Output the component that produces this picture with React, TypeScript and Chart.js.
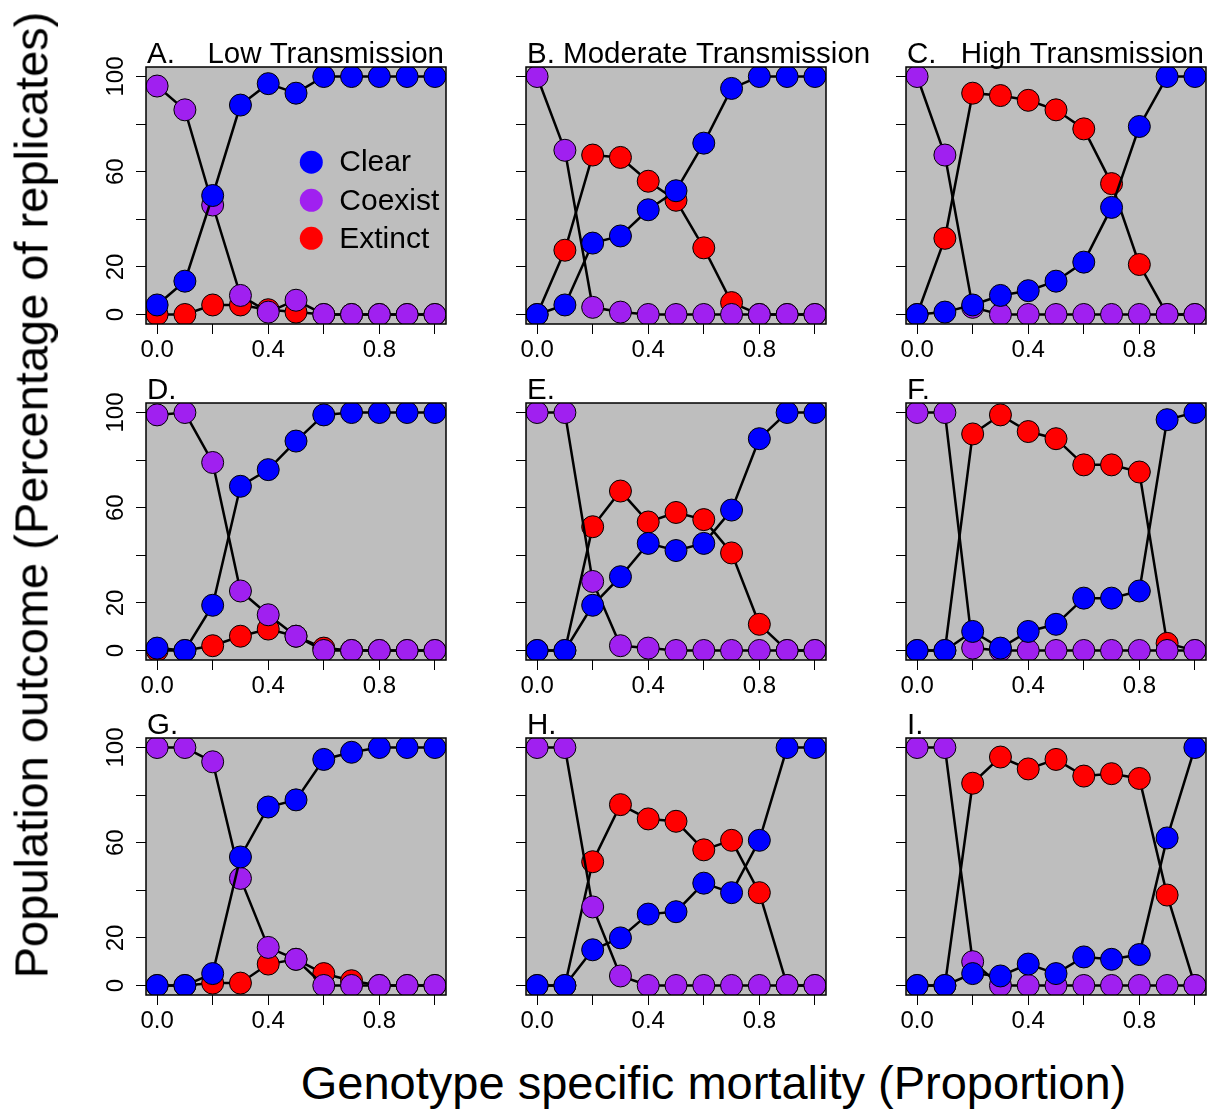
import React, { useEffect, useRef } from 'react';
import { Chart, registerables } from 'chart.js';

Chart.register(...registerables);

// ---------- data ----------
const mortality = [0, 0.1, 0.2, 0.3, 0.4, 0.5, 0.6, 0.7, 0.8, 0.9, 1.0];

const seriesNames = ['Clear', 'Coexist', 'Extinct'];
const seriesColors = ['#0000FF', '#A020F0', '#FF0000'];

const yTickValues = [0, 20, 40, 60, 80, 100];
const yTickLabels = ['0', '20', '', '60', '', '100'];
const xTickValues = [0, 0.2, 0.4, 0.6, 0.8, 1.0];
const xTickLabels = ['0.0', '', '0.4', '', '0.8', ''];

// Panel A - Low transmission
const clearA = [4, 14, 50, 88, 97, 93, 100, 100, 100, 100, 100];
const coexistA = [96, 86, 46, 8, 1, 6, 0, 0, 0, 0, 0];
const extinctA = [0, 0, 4, 4, 2, 1, 0, 0, 0, 0, 0];
// Panel B - Moderate transmission
const clearB = [0, 4, 30, 33, 44, 52, 72, 95, 100, 100, 100];
const coexistB = [100, 69, 3, 1, 0, 0, 0, 0, 0, 0, 0];
const extinctB = [0, 27, 67, 66, 56, 48, 28, 5, 0, 0, 0];
// Panel C - High transmission
const clearC = [0, 1, 4, 8, 10, 14, 22, 45, 79, 100, 100];
const coexistC = [100, 67, 3, 0, 0, 0, 0, 0, 0, 0, 0];
const extinctC = [0, 32, 93, 92, 90, 86, 78, 55, 21, 0, 0];
// Panel D
const clearD = [1, 0, 19, 69, 76, 88, 99, 100, 100, 100, 100];
const coexistD = [99, 100, 79, 25, 15, 6, 0, 0, 0, 0, 0];
const extinctD = [0, 0, 2, 6, 9, 6, 1, 0, 0, 0, 0];
// Panel E
const clearE = [0, 0, 19, 31, 45, 42, 45, 59, 89, 100, 100];
const coexistE = [100, 100, 29, 2, 1, 0, 0, 0, 0, 0, 0];
const extinctE = [0, 0, 52, 67, 54, 58, 55, 41, 11, 0, 0];
// Panel F
const clearF = [0, 0, 8, 1, 8, 11, 22, 22, 25, 97, 100];
const coexistF = [100, 100, 1, 0, 0, 0, 0, 0, 0, 0, 0];
const extinctF = [0, 0, 91, 99, 92, 89, 78, 78, 75, 3, 0];
// Panel G
const clearG = [0, 0, 5, 54, 75, 78, 95, 98, 100, 100, 100];
const coexistG = [100, 100, 94, 45, 16, 11, 0, 0, 0, 0, 0];
const extinctG = [0, 0, 1, 1, 9, 11, 5, 2, 0, 0, 0];
// Panel H
const clearH = [0, 0, 15, 20, 30, 31, 43, 39, 61, 100, 100];
const coexistH = [100, 100, 33, 4, 0, 0, 0, 0, 0, 0, 0];
const extinctH = [0, 0, 52, 76, 70, 69, 57, 61, 39, 0, 0];
// Panel I
const clearI = [0, 0, 5, 4, 9, 5, 12, 11, 13, 62, 100];
const coexistI = [100, 100, 10, 0, 0, 0, 0, 0, 0, 0, 0];
const extinctI = [0, 0, 85, 96, 91, 95, 88, 89, 87, 38, 0];

const panelTitlesLeft = ['A.', 'B. Moderate Transmission', 'C.', 'D.', 'E.', 'F.', 'G.', 'H.', 'I.'];
const panelTitlesRight = ['Low Transmission', '', 'High Transmission', '', '', '', '', '', ''];

const panelClear = [clearA, clearB, clearC, clearD, clearE, clearF, clearG, clearH, clearI];
const panelCoexist = [coexistA, coexistB, coexistC, coexistD, coexistE, coexistF, coexistG, coexistH, coexistI];
const panelExtinct = [extinctA, extinctB, extinctC, extinctD, extinctE, extinctF, extinctG, extinctH, extinctI];

const xAxisTitle = 'Genotype specific mortality (Proportion)';
const yAxisTitle = 'Population outcome (Percentage of replicates)';

// ---------- layout ----------
const FONT = '"Liberation Sans", Arial, Helvetica, sans-serif';
const PLOT_W = 300;
const PLOT_H = 257;
const PAD_L = 100;
const PAD_T = 40;
const PAD_R = 60;
const PAD_B = 50;
const CANVAS_W = PAD_L + PLOT_W + PAD_R;
const CANVAS_H = PAD_T + PLOT_H + PAD_B;
const colLefts = [146, 526, 906];
const rowTops = [67, 403, 738];

const legendX = 0.555;
const legendY = [64, 48, 32];

const decorPlugin = {
  id: 'panelDecor',
  beforeDraw(chart: any) {
    const { ctx, chartArea: a } = chart;
    ctx.save();
    ctx.fillStyle = '#BEBEBE';
    ctx.fillRect(a.left, a.top, a.right - a.left, a.bottom - a.top);
    ctx.restore();
  },
  afterDraw(chart: any) {
    const { ctx, chartArea: a } = chart;
    const o = chart.options.plugins.panelDecor || {};
    ctx.save();
    ctx.strokeStyle = '#000';
    ctx.lineWidth = 1.5;
    ctx.strokeRect(a.left, a.top, a.right - a.left, a.bottom - a.top);
    ctx.fillStyle = '#000';
    ctx.font = `29.5px ${FONT}`;
    ctx.textBaseline = 'alphabetic';
    ctx.textAlign = 'left';
    ctx.fillText(o.titleLeft || '', a.left + 1, a.top - 4);
    if (o.titleRight) {
      ctx.textAlign = 'right';
      ctx.fillText(o.titleRight, a.right - 2, a.top - 4);
    }
    if (o.legend) {
      const xs = chart.scales.x;
      const ys = chart.scales.y;
      const px = xs.getPixelForValue(legendX);
      ctx.font = `30px ${FONT}`;
      ctx.textAlign = 'left';
      ctx.textBaseline = 'middle';
      seriesNames.forEach((name, i) => {
        const py = ys.getPixelForValue(legendY[i]);
        ctx.beginPath();
        ctx.arc(px, py, 11.5, 0, Math.PI * 2);
        ctx.fillStyle = seriesColors[i];
        ctx.fill();
        ctx.fillStyle = '#000';
        ctx.fillText(name, px + 28, py + 1);
      });
    }
    ctx.restore();
  },
};

function Panel({ idx }: { idx: number }) {
  const ref = useRef<HTMLCanvasElement>(null);
  const col = idx % 3;
  const row = Math.floor(idx / 3);
  useEffect(() => {
    const showY = col === 0;
    const values = [panelClear[idx], panelCoexist[idx], panelExtinct[idx]];
    const chart = new Chart(ref.current as HTMLCanvasElement, {
      type: 'line',
      data: {
        datasets: values.map((v, i) => ({
          label: seriesNames[i],
          data: mortality.map((m, j) => ({ x: m, y: v[j] })),
          borderColor: '#000',
          borderWidth: 2.5,
          pointRadius: 11,
          pointHoverRadius: 11,
          pointBackgroundColor: seriesColors[i],
          pointBorderColor: '#000',
          pointBorderWidth: 1,
          tension: 0,
        })),
      },
      options: {
        responsive: false,
        maintainAspectRatio: false,
        animation: false,
        events: [],
        layout: { padding: { left: 0, top: PAD_T, right: PAD_R, bottom: 0 } },
        plugins: {
          legend: { display: false },
          tooltip: { enabled: false },
          title: { display: false },
          panelDecor: {
            titleLeft: panelTitlesLeft[idx],
            titleRight: panelTitlesRight[idx],
            legend: idx === 0,
          },
        } as any,
        scales: {
          x: {
            type: 'linear',
            min: -0.04,
            max: 1.04,
            afterBuildTicks: (s: any) => {
              s.ticks = xTickValues.map((v) => ({ value: v }));
            },
            afterFit: (s: any) => {
              s.height = PAD_B;
            },
            ticks: {
              autoSkip: false,
              maxRotation: 0,
              minRotation: 0,
              padding: 2,
              color: '#000',
              font: { family: FONT, size: 24 },
              callback: (v: any) => {
                const k = xTickValues.findIndex((t) => Math.abs(t - Number(v)) < 1e-9);
                return k >= 0 ? xTickLabels[k] : '';
              },
            },
            grid: {
              display: true,
              drawOnChartArea: false,
              drawTicks: true,
              tickLength: 10,
              color: '#000',
              lineWidth: 1,
            },
            border: { display: false },
          },
          y: {
            type: 'linear',
            min: -4,
            max: 104,
            afterBuildTicks: (s: any) => {
              s.ticks = yTickValues.map((v) => ({ value: v }));
            },
            afterFit: (s: any) => {
              s.width = PAD_L;
            },
            ticks: {
              autoSkip: false,
              minRotation: 90,
              maxRotation: 90,
              crossAlign: 'center',
              padding: 0,
              color: '#000',
              font: { family: FONT, size: 24 },
              callback: (v: any) => {
                if (!showY) return '';
                const k = yTickValues.findIndex((t) => Math.abs(t - Number(v)) < 1e-9);
                return k >= 0 ? yTickLabels[k] : '';
              },
            },
            grid: {
              display: true,
              drawOnChartArea: false,
              drawTicks: true,
              tickLength: 10,
              color: '#000',
              lineWidth: 1,
            },
            border: { display: false },
          },
        },
      } as any,
      plugins: [decorPlugin],
    });
    return () => chart.destroy();
  }, [idx]);
  return (
    <canvas
      ref={ref}
      width={CANVAS_W}
      height={CANVAS_H}
      style={{
        position: 'absolute',
        left: colLefts[col] - PAD_L,
        top: rowTops[row] - PAD_T,
        width: CANVAS_W,
        height: CANVAS_H,
      }}
    />
  );
}

export default function App() {
  return (
    <div
      style={{
        position: 'fixed',
        left: 0,
        top: 0,
        width: 1217,
        height: 1114,
        overflow: 'hidden',
        background: '#fff',
      }}
    >
      {[0, 1, 2, 3, 4, 5, 6, 7, 8].map((i) => (
        <Panel key={i} idx={i} />
      ))}
      <div
        style={{
          position: 'absolute',
          left: 30.5,
          top: 495,
          transform: 'translate(-50%, -50%) rotate(-90deg)',
          font: `47px ${FONT}`,
          lineHeight: '47px',
          whiteSpace: 'nowrap',
          color: '#000',
        }}
      >
        {yAxisTitle}
      </div>
      <div
        style={{
          position: 'absolute',
          left: 713.5,
          top: 1082,
          transform: 'translate(-50%, -50%)',
          font: `47px ${FONT}`,
          lineHeight: '47px',
          whiteSpace: 'nowrap',
          color: '#000',
        }}
      >
        {xAxisTitle}
      </div>
    </div>
  );
}
